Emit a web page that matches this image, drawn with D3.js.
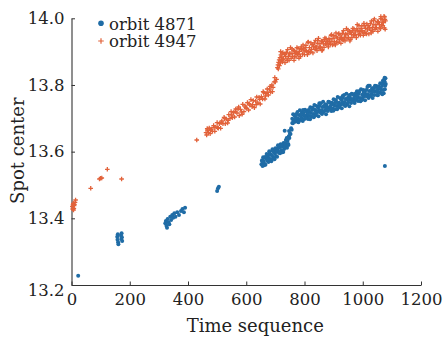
<!DOCTYPE html>
<html>
<head>
<meta charset="utf-8">
<script src="https://cdn.jsdelivr.net/npm/d3@7"></script>
<style>
  html, body { margin: 0; padding: 0; background: #fff; }
  svg { display: block; font-family: 'DejaVu Serif', serif; }
</style>
</head>
<body>
<div id="chart"></div>
<script>
const xTicks = [0, 200, 400, 600, 800, 1000, 1200];
const yTicks = [13.2, 13.4, 13.6, 13.8, 14.0];
const seriesNames = ['orbit 4871', 'orbit 4947'];

// orbit 4871 : [time, spot center]
const blueEarly = [
  [23, 13.228],
  [157, 13.345], [158, 13.336], [159, 13.352], [160, 13.328], [161, 13.322],
  [170, 13.348], [171, 13.338], [172, 13.355], [173, 13.343], [174, 13.332],
  [322, 13.385], [324, 13.392], [326, 13.378], [328, 13.372], [330, 13.398],
  [333, 13.388], [336, 13.382], [339, 13.405], [342, 13.395], [346, 13.41],
  [349, 13.402], [353, 13.415], [357, 13.405], [363, 13.418], [369, 13.41],
  [376, 13.422], [381, 13.428], [386, 13.418], [390, 13.432],
  [500, 13.482], [503, 13.49], [506, 13.495],
  [1076, 13.557]
];
const blueLower = [
  [652, 13.562], [654, 13.574], [656, 13.557], [658, 13.583], [660, 13.572],
  [662, 13.564], [664, 13.583], [666, 13.561], [668, 13.580], [670, 13.593],
  [672, 13.573], [674, 13.588], [676, 13.569], [678, 13.581], [680, 13.595],
  [682, 13.576], [684, 13.591], [686, 13.571], [688, 13.590], [690, 13.607],
  [692, 13.584], [694, 13.601], [696, 13.580], [698, 13.595], [700, 13.610],
  [702, 13.587], [704, 13.604], [706, 13.585], [708, 13.604], [710, 13.613],
  [712, 13.597], [714, 13.613], [716, 13.595], [718, 13.622], [720, 13.605],
  [722, 13.617], [724, 13.598], [726, 13.616], [728, 13.626], [730, 13.608],
  [732, 13.625], [734, 13.613], [736, 13.635], [738, 13.623], [740, 13.612],
  [742, 13.633], [744, 13.623], [746, 13.646], [748, 13.641], [750, 13.654],
  [752, 13.653], [754, 13.670], [756, 13.666], [758, 13.686],
  [655, 13.571], [661, 13.559], [667, 13.584], [673, 13.576], [679, 13.601],
  [685, 13.577], [691, 13.602], [697, 13.577], [703, 13.600], [709, 13.619],
  [715, 13.598], [721, 13.619], [727, 13.599], [733, 13.622], [739, 13.641],
  [745, 13.620], [732, 13.663], [747, 13.662]
];
const blueUpper = [
  [758, 13.699], [760, 13.685], [761, 13.712], [763, 13.694], [766, 13.708],
  [768, 13.690], [770, 13.701], [772, 13.713], [773, 13.693], [776, 13.719],
  [778, 13.700], [779, 13.688], [782, 13.710], [784, 13.724], [785, 13.695],
  [788, 13.709], [790, 13.700], [791, 13.717], [794, 13.692], [796, 13.716],
  [798, 13.708], [800, 13.698], [802, 13.726], [804, 13.707], [806, 13.721],
  [808, 13.703], [809, 13.712], [812, 13.698], [814, 13.725], [816, 13.720],
  [818, 13.707], [820, 13.733], [822, 13.716], [824, 13.705], [826, 13.725],
  [828, 13.732], [830, 13.713], [832, 13.703], [834, 13.740], [836, 13.713],
  [838, 13.723], [840, 13.709], [842, 13.737], [844, 13.719], [846, 13.732],
  [848, 13.706], [850, 13.725], [852, 13.737], [854, 13.718], [856, 13.745],
  [858, 13.724], [860, 13.713], [862, 13.734], [864, 13.750], [866, 13.719],
  [868, 13.735], [870, 13.724], [872, 13.742], [874, 13.712], [876, 13.740],
  [878, 13.732], [880, 13.722], [882, 13.750], [884, 13.732], [886, 13.748],
  [888, 13.728], [890, 13.738], [892, 13.722], [894, 13.747], [896, 13.743],
  [898, 13.729], [900, 13.757], [902, 13.739], [904, 13.727], [906, 13.748],
  [908, 13.755], [910, 13.737], [912, 13.727], [914, 13.764], [916, 13.737],
  [918, 13.747], [920, 13.733], [922, 13.761], [924, 13.742], [926, 13.756],
  [928, 13.730], [930, 13.749], [932, 13.761], [934, 13.742], [936, 13.770],
  [938, 13.749], [940, 13.737], [942, 13.758], [944, 13.774], [946, 13.742],
  [948, 13.757], [950, 13.748], [952, 13.765], [954, 13.736], [956, 13.763],
  [958, 13.756], [960, 13.746], [962, 13.774], [964, 13.756], [966, 13.772],
  [968, 13.755], [970, 13.762], [972, 13.746], [974, 13.774], [976, 13.770],
  [978, 13.756], [980, 13.781], [982, 13.763], [984, 13.752], [986, 13.773],
  [988, 13.780], [990, 13.761], [992, 13.751], [994, 13.787], [996, 13.760],
  [998, 13.771], [1000, 13.757], [1002, 13.785], [1004, 13.766], [1006, 13.780],
  [1008, 13.754], [1010, 13.773], [1012, 13.785], [1014, 13.766], [1016, 13.794],
  [1018, 13.772], [1020, 13.761], [1022, 13.782], [1024, 13.798], [1026, 13.767],
  [1028, 13.782], [1030, 13.772], [1032, 13.790], [1034, 13.761], [1036, 13.790],
  [1038, 13.782], [1040, 13.770], [1042, 13.798], [1044, 13.781], [1046, 13.797],
  [1048, 13.779], [1050, 13.786], [1052, 13.770], [1054, 13.796], [1056, 13.792],
  [1058, 13.778], [1060, 13.805], [1062, 13.787], [1064, 13.776], [1066, 13.797],
  [1068, 13.804], [1070, 13.785], [1072, 13.775], [1074, 13.811], [1075, 13.822],
  [1076, 13.787], [1077, 13.798], [1078, 13.820], [1079, 13.803], [1073, 13.816],
  [1069, 13.813]
];
const blueUpperFill = [
  [763, 13.692], [771, 13.710], [779, 13.690], [787, 13.709], [795, 13.725],
  [803, 13.701], [811, 13.713], [819, 13.697], [827, 13.730], [835, 13.726],
  [843, 13.719], [851, 13.745], [859, 13.716], [867, 13.737], [875, 13.731],
  [883, 13.749], [891, 13.729], [899, 13.723], [907, 13.752], [915, 13.746],
  [923, 13.741], [931, 13.767], [939, 13.739], [947, 13.760], [955, 13.770],
  [963, 13.756], [971, 13.750], [979, 13.768], [987, 13.781], [995, 13.754],
  [1003, 13.779], [1011, 13.768], [1019, 13.798], [1027, 13.769], [1035, 13.780],
  [1043, 13.794], [1051, 13.769], [1059, 13.790], [1067, 13.772], [1075, 13.810]
];

// orbit 4947 : [time, spot center]
const orangeEarly = [
  [3, 13.435], [5, 13.440], [6, 13.445], [8, 13.430], [9, 13.438],
  [10, 13.442], [12, 13.448], [14, 13.455], [4, 13.428], [7, 13.425],
  [66, 13.49], [96, 13.518], [100, 13.52], [104, 13.521], [123, 13.547],
  [172, 13.518], [430, 13.635]
];
const orangeLower = [
  [462, 13.657], [464, 13.650], [467, 13.665], [470, 13.657], [473, 13.671],
  [476, 13.654], [480, 13.668], [484, 13.661], [488, 13.678], [492, 13.661],
  [496, 13.674], [500, 13.687], [504, 13.670], [508, 13.684], [512, 13.670],
  [516, 13.692], [520, 13.684], [524, 13.703], [528, 13.684], [532, 13.698],
  [536, 13.686], [540, 13.711], [544, 13.700], [548, 13.720], [552, 13.702],
  [556, 13.717], [560, 13.704], [564, 13.728], [568, 13.716], [572, 13.728],
  [576, 13.708], [580, 13.727], [584, 13.719], [588, 13.742], [592, 13.720],
  [596, 13.737], [600, 13.730], [604, 13.747], [608, 13.725], [612, 13.740],
  [616, 13.756], [620, 13.735], [624, 13.753], [628, 13.732], [632, 13.752],
  [636, 13.764], [640, 13.746], [644, 13.763], [648, 13.743], [652, 13.765],
  [656, 13.758], [660, 13.777], [664, 13.758], [668, 13.775], [672, 13.788],
  [676, 13.770], [680, 13.788], [684, 13.779], [688, 13.800], [692, 13.793],
  [696, 13.809], [700, 13.809], [704, 13.817],
  [466, 13.669], [478, 13.664], [490, 13.673], [502, 13.672], [514, 13.687],
  [526, 13.699], [538, 13.694], [550, 13.710], [562, 13.721], [574, 13.734],
  [586, 13.712], [598, 13.733], [610, 13.744], [622, 13.741], [634, 13.741],
  [646, 13.757], [658, 13.780], [666, 13.767], [674, 13.778], [682, 13.796],
  [690, 13.780], [698, 13.822]
];
const orangeUpper = [
  [707, 13.852], [709, 13.860], [710, 13.848], [711, 13.868], [713, 13.875],
  [714, 13.858], [716, 13.882], [717, 13.866], [719, 13.890], [721, 13.874],
  [718, 13.900], [723, 13.896],
  [722, 13.884], [724, 13.869], [726, 13.897], [728, 13.878], [731, 13.892],
  [733, 13.867], [735, 13.886], [738, 13.897], [740, 13.878], [742, 13.906],
  [745, 13.886], [747, 13.874], [750, 13.895], [752, 13.912], [754, 13.880],
  [757, 13.895], [759, 13.886], [762, 13.904], [764, 13.874], [766, 13.902],
  [769, 13.895], [771, 13.884], [774, 13.912], [776, 13.894], [778, 13.910],
  [781, 13.891], [783, 13.901], [786, 13.885], [788, 13.910], [790, 13.906],
  [793, 13.893], [795, 13.920], [798, 13.902], [800, 13.891], [802, 13.912],
  [805, 13.919], [807, 13.901], [810, 13.891], [812, 13.928], [814, 13.900],
  [817, 13.912], [819, 13.898], [822, 13.926], [824, 13.907], [826, 13.921],
  [829, 13.896], [831, 13.914], [834, 13.926], [836, 13.907], [838, 13.934],
  [841, 13.914], [843, 13.903], [846, 13.924], [848, 13.940], [850, 13.909],
  [853, 13.924], [855, 13.914], [858, 13.932], [860, 13.903], [862, 13.931],
  [865, 13.923], [867, 13.913], [870, 13.941], [872, 13.923], [874, 13.939],
  [877, 13.920], [879, 13.930], [882, 13.914], [884, 13.939], [886, 13.935],
  [889, 13.922], [891, 13.949], [894, 13.931], [896, 13.920], [898, 13.940],
  [901, 13.948], [903, 13.930], [906, 13.920], [908, 13.956], [910, 13.929],
  [913, 13.941], [915, 13.927], [918, 13.954], [920, 13.936], [922, 13.950],
  [925, 13.925], [927, 13.943], [930, 13.955], [932, 13.936], [934, 13.963],
  [937, 13.943], [939, 13.932], [942, 13.953], [944, 13.969], [946, 13.938],
  [949, 13.953], [951, 13.943], [954, 13.961], [956, 13.932], [958, 13.959],
  [961, 13.952], [963, 13.942], [966, 13.970], [968, 13.951], [970, 13.968],
  [973, 13.949], [975, 13.959], [978, 13.942], [980, 13.968], [982, 13.964],
  [985, 13.951], [987, 13.978], [990, 13.960], [992, 13.949], [994, 13.969],
  [997, 13.977], [999, 13.959], [1002, 13.949], [1004, 13.985], [1006, 13.958],
  [1009, 13.970], [1011, 13.955], [1014, 13.983], [1016, 13.965], [1018, 13.978],
  [1021, 13.953], [1023, 13.972], [1026, 13.984], [1028, 13.964], [1030, 13.992],
  [1033, 13.972], [1035, 13.961], [1038, 13.981], [1040, 13.998], [1042, 13.967],
  [1045, 13.981], [1047, 13.972], [1050, 13.990], [1052, 13.961], [1054, 13.988],
  [1057, 13.981], [1059, 13.971], [1062, 13.999], [1064, 13.980], [1066, 13.997],
  [1069, 13.978], [1071, 13.987], [1074, 13.971], [1076, 13.997], [1078, 13.992],
  [1062, 14.005], [1073, 14.006], [1077, 13.967]
];
const orangeUpperFill = [
  [725, 13.876], [733, 13.894], [741, 13.873], [749, 13.893], [757, 13.908],
  [765, 13.885], [773, 13.897], [781, 13.880], [789, 13.914], [797, 13.909],
  [805, 13.903], [813, 13.929], [821, 13.899], [829, 13.921], [837, 13.914],
  [845, 13.933], [853, 13.913], [861, 13.906], [869, 13.936], [877, 13.929],
  [885, 13.925], [893, 13.951], [901, 13.922], [909, 13.944], [917, 13.953],
  [925, 13.940], [933, 13.934], [941, 13.951], [949, 13.965], [957, 13.937],
  [965, 13.963], [973, 13.952], [981, 13.981], [989, 13.953], [997, 13.963],
  [1005, 13.978], [1013, 13.953], [1021, 13.973], [1029, 13.956], [1037, 13.993],
  [1045, 13.971], [1053, 13.990], [1061, 13.969], [1069, 13.989], [1075, 14.004]
];

const orbit4871 = [...blueEarly, ...blueLower, ...blueUpper, ...blueUpperFill];
const orbit4947 = [...orangeEarly, ...orangeLower, ...orangeUpper, ...orangeUpperFill];

const width = 445, height = 340;
const margin = {top: 18.3, right: 24, bottom: 55, left: 71.5};
const color = ['#1f6ca6', '#e2623a'];

const svg = d3.select('#chart').append('svg')
  .attr('width', width).attr('height', height);

const x = d3.scaleLinear().domain([0, 1200]).range([margin.left, width - margin.right]);
const y = d3.scaleLinear().domain([13.2, 14.0]).range([height - margin.bottom, margin.top]);

const axisX = svg.append('g')
  .attr('transform', 'translate(0,' + y(13.2) + ')')
  .call(d3.axisBottom(x).tickValues(xTicks).tickFormat(d3.format('d')).tickSizeInner(-3.5).tickSizeOuter(0).tickPadding(8));

const axisY = svg.append('g')
  .attr('transform', 'translate(' + x(0) + ',0)')
  .call(d3.axisLeft(y).tickValues(yTicks).tickFormat(d3.format('.1f')).tickSizeInner(-3.5).tickSizeOuter(0).tickPadding(7));

[axisX, axisY].forEach((a) => {
  a.select('path.domain').attr('stroke', '#333').attr('stroke-width', 1.1);
  a.selectAll('.tick line').attr('stroke', '#333').attr('stroke-width', 1);
  a.selectAll('.tick text')
    .attr('fill', '#222')
    .attr('font-size', '16.5px')
    .attr('font-family', "'DejaVu Serif', serif");
});
axisY.selectAll('.tick text').filter((d) => d === 13.2).attr('dy', '0.62em');

svg.append('text')
  .attr('x', (x(0) + x(1200)) / 2 + 9)
  .attr('y', 332)
  .attr('text-anchor', 'middle')
  .attr('font-size', '18px')
  .attr('fill', '#222')
  .text('Time sequence');

svg.append('text')
  .attr('transform', 'translate(24,' + (y(13.6) - 1) + ') rotate(-90)')
  .attr('text-anchor', 'middle')
  .attr('font-size', '18px')
  .attr('fill', '#222')
  .text('Spot center');

const plot = svg.append('g');

plot.selectAll('circle.s1')
  .data(orbit4871).enter()
  .append('circle')
  .attr('class', 's1')
  .attr('cx', (d) => x(d[0]))
  .attr('cy', (d) => y(d[1]))
  .attr('r', 2)
  .attr('fill', color[0]);

const plus = (s) => 'M' + (-s) + ',0H' + s + 'M0,' + (-s) + 'V' + s;

plot.selectAll('path.s2')
  .data(orbit4947).enter()
  .append('path')
  .attr('class', 's2')
  .attr('transform', (d) => 'translate(' + x(d[0]) + ',' + y(d[1]) + ')')
  .attr('d', plus(2.3))
  .attr('stroke', color[1])
  .attr('stroke-width', 1.3)
  .attr('fill', 'none');

const legend = svg.append('g').attr('transform', 'translate(101,0)');
legend.append('circle').attr('cx', 0).attr('cy', 23.3).attr('r', 2.8).attr('fill', color[0]);
legend.append('path').attr('transform', 'translate(0,41)').attr('d', plus(2.8))
  .attr('stroke', color[1]).attr('stroke-width', 1.2);
legend.selectAll('text')
  .data(seriesNames).enter()
  .append('text')
  .attr('x', 8)
  .attr('y', (d, i) => 29.5 + i * 17.5)
  .attr('font-size', '16.5px')
  .attr('fill', '#222')
  .text((d) => d);
</script>
</body>
</html>
